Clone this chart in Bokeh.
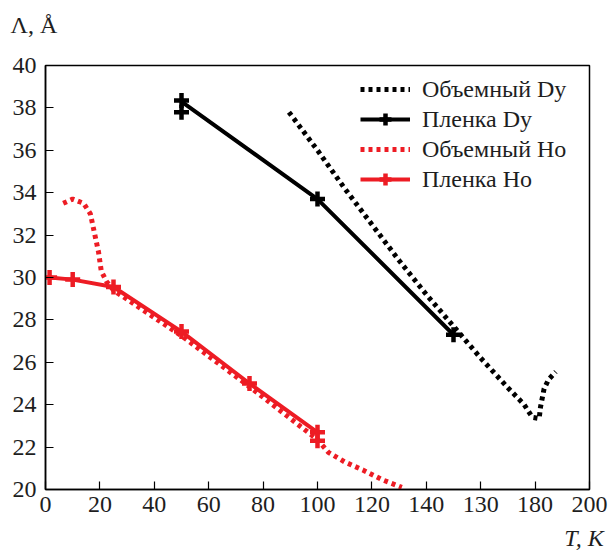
from bokeh.plotting import figure
from bokeh.models import Range1d, FixedTicker, Legend, LegendItem, Title, LinearAxis
from bokeh.embed import file_html
from bokeh.resources import INLINE

# ---- data ----
x_ticks = [0, 20, 40, 60, 80, 100, 120, 140, 160, 180, 200]
x_tick_labels = ["0", "20", "40", "60", "80", "100", "120", "140", "130", "180", "200"]
y_ticks = [20, 22, 24, 26, 28, 30, 32, 34, 36, 38, 40]

dy_bulk_T = [89.5, 100, 110, 120, 130, 140, 150, 160, 170, 176, 179, 181.5, 182, 183.3, 185, 187.6]
dy_bulk_L = [37.8, 36.0, 34.2, 32.5, 30.8, 29.2, 27.7, 26.2, 24.8, 24.0, 23.4, 23.35, 23.9, 24.75, 25.2, 25.55]

dy_film_T = [50, 100, 150]
dy_film_L = [38.3, 33.7, 27.3]
dy_film_pts_T = [50, 50, 100, 150]
dy_film_pts_L = [38.35, 37.8, 33.7, 27.3]

ho_bulk_T = [6.5, 10, 14, 16.5, 18, 19.5, 20.5, 22.5, 25, 50, 75, 100, 104, 110, 117, 124, 131]
ho_bulk_L = [33.5, 33.7, 33.5, 33.0, 32.1, 31.2, 30.3, 29.8, 29.4, 27.25, 24.85, 22.35, 21.75, 21.3, 20.9, 20.45, 20.1]

ho_film_T = [1.5, 10, 25, 50, 75, 100]
ho_film_L = [30.0, 29.9, 29.55, 27.45, 25.0, 22.7]
ho_film_pts_T = [1.5, 10, 25, 50, 75, 100, 100]
ho_film_pts_L = [30.0, 29.9, 29.55, 27.45, 25.0, 22.7, 22.3]

legend_labels = ["Объемный Dy", "Пленка Dy", "Объемный Ho", "Пленка Ho"]
y_title = "Λ, Å"
x_title = "T, K"

RED = "#ED1C24"
FONT = "Liberation Serif"
TXT = "#1e1e1e"
W, H = 608, 553
X_TITLE_AT = 198  # where the x-axis title is centred (layout only)

p = figure(width=W, height=H, output_backend="svg", toolbar_location=None,
           x_range=Range1d(0, 200), y_range=Range1d(20, 40),
           min_border_left=45, min_border_right=19, min_border_top=65, min_border_bottom=64)

p.xgrid.visible = False
p.ygrid.visible = False
p.outline_line_color = "black"
p.outline_line_width = 1.5
p.background_fill_color = "white"
p.border_fill_color = "white"
p.title.text = ""

# spacer between frame and the y title, then the y title itself (top-left)
p.add_layout(Title(text=" ", text_font_size="1px", standoff=23), "above")
p.add_layout(Title(text=y_title, align="left", offset=-35, standoff=4,
                   text_font=FONT, text_font_size="24px", text_font_style="normal",
                   text_color=TXT), "above")

p.xaxis.ticker = FixedTicker(ticks=x_ticks)
p.xaxis.major_label_overrides = {t: l for t, l in zip(x_ticks, x_tick_labels)}
p.yaxis.ticker = FixedTicker(ticks=y_ticks)
for ax in (p.xaxis[0], p.yaxis[0]):
    ax.major_tick_in = 8
    ax.major_tick_out = 0
    ax.minor_tick_line_color = None
    ax.axis_line_color = "black"
    ax.axis_line_width = 1.5
    ax.major_tick_line_color = "black"
    ax.major_tick_line_width = 1.2
    ax.major_label_text_font = FONT
    ax.major_label_text_font_size = "24px"
    ax.major_label_text_color = TXT
p.yaxis.major_label_standoff = 9
p.xaxis.major_label_standoff = 7

# x-axis title, bottom-right, as a label-only axis below the main one
tk_axis = LinearAxis(ticker=FixedTicker(ticks=[X_TITLE_AT]),
                     major_label_overrides={X_TITLE_AT: x_title})
tk_axis.axis_line_color = None
tk_axis.major_tick_line_color = None
tk_axis.minor_tick_line_color = None
tk_axis.major_tick_in = 0
tk_axis.major_tick_out = 0
tk_axis.major_label_standoff = 10
tk_axis.major_label_text_font = FONT
tk_axis.major_label_text_font_size = "24px"
tk_axis.major_label_text_font_style = "italic"
tk_axis.major_label_text_color = TXT
p.add_layout(tk_axis, "below")

# ---- glyphs ----
r_dy_bulk = p.line(dy_bulk_T, dy_bulk_L, line_color="black", line_width=5, line_dash="4 4")
r_dy_film = p.line(dy_film_T, dy_film_L, line_color="black", line_width=4)
r_dy_pts = p.scatter(dy_film_pts_T, dy_film_pts_L, marker="cross", size=15, line_width=4.5,
                     line_color="black")
r_ho_bulk = p.line(ho_bulk_T, ho_bulk_L, line_color=RED, line_width=5, line_dash="4 4")
r_ho_film = p.line(ho_film_T, ho_film_L, line_color=RED, line_width=4)
r_ho_pts = p.scatter(ho_film_pts_T, ho_film_pts_L, marker="cross", size=15, line_width=4.5,
                     line_color=RED)

legend = Legend(items=[
    LegendItem(label=legend_labels[0], renderers=[r_dy_bulk]),
    LegendItem(label=legend_labels[1], renderers=[r_dy_film, r_dy_pts]),
    LegendItem(label=legend_labels[2], renderers=[r_ho_bulk]),
    LegendItem(label=legend_labels[3], renderers=[r_ho_film, r_ho_pts]),
], location=(315, 295))
legend.border_line_color = None
legend.background_fill_alpha = 0
legend.label_text_font = FONT
legend.label_text_font_size = "24px"
legend.label_text_color = TXT
legend.glyph_width = 50
legend.glyph_height = 30
legend.label_height = 24
legend.label_standoff = 12
legend.spacing = 0
legend.padding = 0
legend.margin = 0
p.add_layout(legend)

open("out.html", "w").write(file_html(p, INLINE))
